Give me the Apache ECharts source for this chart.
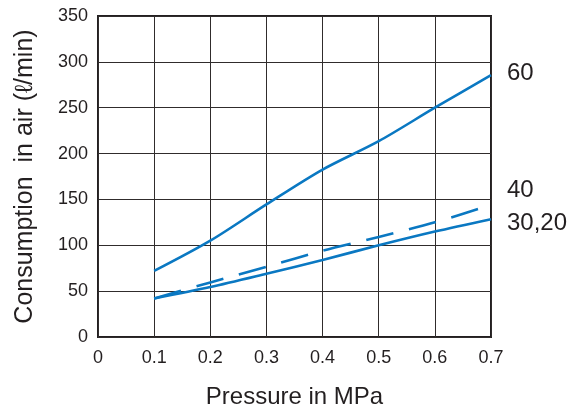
<!DOCTYPE html>
<html>
<head>
<meta charset="utf-8">
<script src="https://cdn.jsdelivr.net/npm/echarts@6/dist/echarts.min.js"></script>
<style>
html,body{margin:0;padding:0;background:#fff;}
#c{width:576px;height:405px;}
</style>
</head>
<body>
<div id="c"></div>
<script>
var pressure = [0.1, 0.2, 0.3, 0.4, 0.5, 0.6, 0.7];
var line60 = [72, 105, 144.5, 182.5, 213.5, 250, 285.5];
var line40 = [42, 59.5, 76.5, 94, 109, 125, 144];
var line3020 = [42, 54.5, 69, 84, 100, 115, 128.5];
var xTicks = ['0', '0.1', '0.2', '0.3', '0.4', '0.5', '0.6', '0.7'];
var yTicks = [0, 50, 100, 150, 200, 250, 300, 350];
var seriesLabels = ['60', '40', '30,20'];

function pairs(ys) { return pressure.map(function (x, i) { return [x, ys[i]]; }); }

var textColor = '#231f20';
var blue = '#0a78c2';
var font = '"Liberation Sans", Arial, sans-serif';

var chart = echarts.init(document.getElementById('c'), null, { renderer: 'canvas' });
chart.setOption({
  animation: false,
  backgroundColor: '#fff',
  grid: { left: 98, right: 85, top: 16, bottom: 68, show: true, borderColor: '#231f20', borderWidth: 2,
    containLabel: false, outerBoundsMode: 'none' },
  xAxis: {
    type: 'value', min: 0, max: 0.7, interval: 0.1,
    name: 'Pressure in MPa', nameLocation: 'middle', nameGap: 48,
    nameTextStyle: { fontSize: 24, color: textColor, fontFamily: font },
    axisLine: { show: false }, axisTick: { show: false },
    axisLabel: { fontSize: 18, color: textColor, fontFamily: font, margin: 12,
      formatter: function (v) { return xTicks[Math.round(v * 10)]; } },
    splitLine: { show: true, lineStyle: { color: '#302c2c', width: 1 } }
  },
  yAxis: {
    type: 'value', min: 0, max: 350, interval: 50,
    name: 'Consumption  in air (\u2113/min)', nameLocation: 'middle', nameGap: 60,
    nameTextStyle: { fontSize: 25, color: textColor, fontFamily: font },
    axisLine: { show: false }, axisTick: { show: false },
    axisLabel: { fontSize: 18, color: textColor, fontFamily: font, margin: 10, padding: [8, 0, 0, 0],
      formatter: function (v) { return yTicks.indexOf(v) >= 0 ? String(v) : ''; } },
    splitLine: { show: true, lineStyle: { color: '#302c2c', width: 1 } }
  },
  series: [
    { type: 'line', data: pairs(line60), smooth: 0.3, symbol: 'none',
      lineStyle: { color: blue, width: 2.6 },
      endLabel: { show: true, formatter: seriesLabels[0], fontSize: 24, color: textColor, fontFamily: font, offset: [8, -2] } },
    { type: 'line', data: pairs(line40), smooth: 0.3, symbol: 'none',
      lineStyle: { color: blue, width: 2.6, type: [28, 16] },
      endLabel: { show: true, formatter: seriesLabels[1], fontSize: 24, color: textColor, fontFamily: font, offset: [8, -15] } },
    { type: 'line', data: pairs(line3020), smooth: 0.3, symbol: 'none',
      lineStyle: { color: blue, width: 2.6 },
      endLabel: { show: true, formatter: seriesLabels[2], fontSize: 24, color: textColor, fontFamily: font, offset: [8, 4] } }
  ]
});
</script>
</body>
</html>
